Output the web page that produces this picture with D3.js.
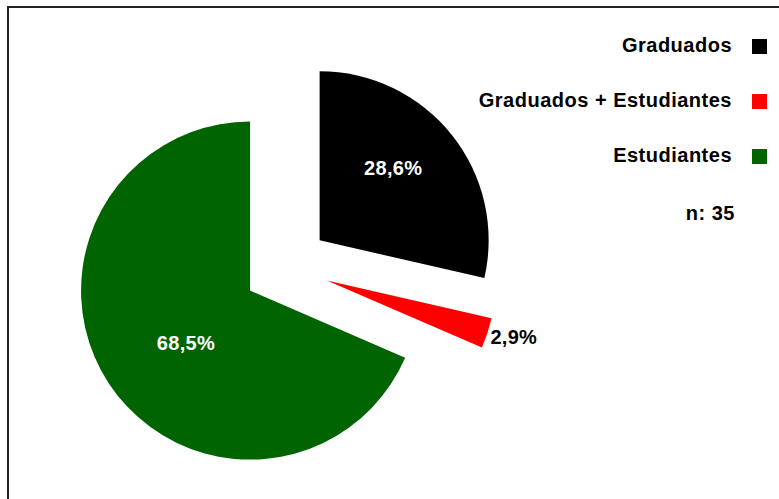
<!DOCTYPE html>
<html>
<head>
<meta charset="utf-8">
<script src="https://cdn.jsdelivr.net/npm/d3@7"></script>
<style>
  html, body { margin: 0; padding: 0; background: #fff; }
  svg { display: block; font-family: "Liberation Sans", Arial, sans-serif; font-weight: bold; }
</style>
</head>
<body>
<div id="chart"></div>
<script>
const categories = ["Graduados", "Graduados + Estudiantes", "Estudiantes"];
const values = [28.6, 2.9, 68.5];
const sampleSize = "n: 35";

const colorRange = ["#000000", "#ff0000", "#006400"];

const width = 779;
const height = 499;

const center = { x: 286, y: 267 };
const radius = 169;
const explode = 43;

// where each label sits, as a share of the radius from the slice apex (null = outside)
const labelFactor = [0.61, null, 0.49];
const labelTurn = -6 * Math.PI / 180;

const colors = d3.scaleOrdinal().domain(categories).range(colorRange);
const fmt = v => d3.format(".1f")(v).replace(".", ",") + "%";

const svg = d3.select("#chart")
    .append("svg")
    .attr("width", width)
    .attr("height", height);

svg.append("rect")
    .attr("x", 8)
    .attr("y", 7)
    .attr("width", 900)
    .attr("height", 700)
    .attr("fill", "#fff")
    .attr("stroke", "#222")
    .attr("stroke-width", 2);

const pie = d3.pie().sort(null).value(d => d.value);
const arc = d3.arc().innerRadius(0).outerRadius(radius);

const plotData = categories.map((key, i) => ({ key, value: values[i], i }));
const arcs = pie(plotData);

const g = svg.append("g")
    .attr("transform", `translate(${center.x},${center.y})`);

const slice = g.selectAll(".slice")
    .data(arcs)
    .enter()
    .append("g")
    .attr("class", "slice")
    .attr("transform", d => {
        const mid = (d.startAngle + d.endAngle) / 2;
        return `translate(${Math.sin(mid) * explode},${-Math.cos(mid) * explode})`;
    });

slice.append("path")
    .attr("d", arc)
    .attr("fill", d => colors(d.data.key));

function labelPos(d) {
    const mid = (d.startAngle + d.endAngle) / 2;
    const f = labelFactor[d.data.i];
    if (f === null)
        return [Math.sin(mid) * radius + 3, -Math.cos(mid) * radius + 4];
    const a = mid + labelTurn;
    return [Math.sin(a) * radius * f, -Math.cos(a) * radius * f];
}

slice.append("text")
    .attr("x", d => labelPos(d)[0])
    .attr("y", d => labelPos(d)[1])
    .attr("dy", "0.35em")
    .attr("text-anchor", d => labelFactor[d.data.i] === null ? "start" : "middle")
    .attr("fill", d => labelFactor[d.data.i] === null ? "#000" : "#fff")
    .style("font-size", "20px")
    .style("letter-spacing", "0.3px")
    .text(d => fmt(d.data.value));

// legend
const legend = svg.append("g").attr("transform", "translate(0,45)");

const rows = legend.selectAll(".row")
    .data(categories)
    .enter()
    .append("g")
    .attr("class", "row")
    .attr("transform", (d, i) => `translate(0,${i * 55})`);

rows.append("text")
    .attr("x", 732)
    .attr("y", 0)
    .attr("dy", "0.35em")
    .attr("text-anchor", "end")
    .style("font-size", "20px")
    .style("letter-spacing", "0.5px")
    .text(d => d);

rows.append("rect")
    .attr("x", 752)
    .attr("y", -6)
    .attr("width", 15)
    .attr("height", 15)
    .attr("fill", d => colors(d));

legend.append("text")
    .attr("x", 735)
    .attr("y", 168)
    .attr("dy", "0.35em")
    .attr("text-anchor", "end")
    .style("font-size", "20px")
    .style("letter-spacing", "0.5px")
    .text(sampleSize);
</script>
</body>
</html>
